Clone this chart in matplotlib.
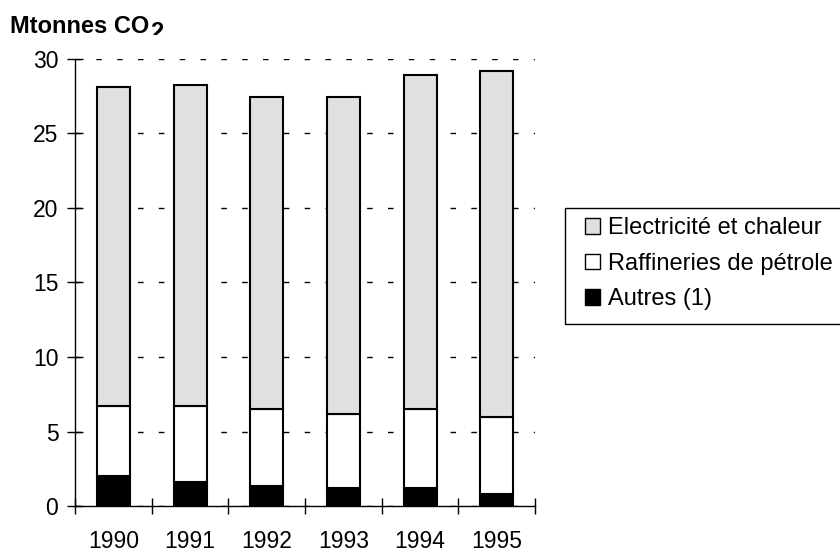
import matplotlib.pyplot as plt
from matplotlib.patches import Rectangle
from matplotlib.transforms import Bbox, TransformedBbox
import numpy as np

plt.rcParams['font.family'] = ['Liberation Sans', 'DejaVu Sans']

# données
annees = ['1990', '1991', '1992', '1993', '1994', '1995']
autres = [2.05, 1.65, 1.36, 1.25, 1.25, 0.84]
raffineries = [4.65, 5.05, 5.16, 4.91, 5.27, 5.16]
electricite = [21.40, 21.54, 20.91, 21.27, 22.37, 23.16]

x = np.arange(len(annees))
bas2 = np.array(autres) + np.array(raffineries)

fig = plt.figure(figsize=(8.4, 5.52), dpi=100)
ax = fig.add_axes([0.0893, 0.0828, 0.5477, 0.8112])

ax.bar(x, autres, width=0.43, color='black', edgecolor='black', linewidth=1.5,
       label='Autres (1)', zorder=3)
ax.bar(x, raffineries, bottom=autres, width=0.43, color='white', edgecolor='black',
       linewidth=1.5, label='Raffineries de pétrole', zorder=3)
ax.bar(x, electricite, bottom=bas2, width=0.43, color='#e0e0e0', edgecolor='black',
       linewidth=1.5, label='Electricité et chaleur', zorder=3)

ax.set_xlim(-0.5, 5.5)
ax.set_ylim(0, 30)
ax.set_yticks(range(0, 31, 5))
ax.set_xticks(x)
ax.set_xticklabels(annees)
ax.set_xticks(np.arange(-0.5, 6, 1), minor=True)
ax.tick_params(axis='x', which='major', length=0, pad=17, labelsize=16.5)
ax.tick_params(axis='x', which='minor', direction='inout', length=12, width=1)
ax.tick_params(axis='y', direction='inout', length=12, width=1, labelsize=16.5, pad=6)

ax.yaxis.grid(True, color='black', linewidth=1, linestyle=(0, (4, 11)), zorder=0)
ax.spines['top'].set_visible(False)
ax.spines['right'].set_visible(False)
for s in ['left', 'bottom']:
    ax.spines[s].set_linewidth(1)

t = fig.text(0.012, 0.94, 'Mtonnes CO', fontsize=17, fontweight='bold')
deux = ax.annotate('2', xy=(1, 1), xycoords=t, xytext=(0.5, -4), textcoords='offset points',
                   fontsize=17, fontweight='bold', va='top')
# le "2" est coupé en bas comme dans l'original
deux.set_clip_box(TransformedBbox(Bbox([[0, 1 - 35 / 552], [1, 1]]), fig.transFigure))
deux.set_clip_on(True)

# légende
cadre = Rectangle((565 / 840, 1 - 324 / 552), 0.4, 116 / 552, transform=fig.transFigure,
                  fill=False, edgecolor='black', linewidth=1, clip_on=False)
fig.patches.append(cadre)

h, l = ax.get_legend_handles_labels()
leg = fig.legend(h[::-1], l[::-1], loc='upper left', bbox_to_anchor=(585 / 840, 1 - 217 / 552),
                 fontsize=17, frameon=False,
                 handlelength=0.64, handleheight=0.64, handletextpad=0.34,
                 labelspacing=0.58, borderpad=0, borderaxespad=0)
for p in leg.get_patches():
    p.set_linewidth(1)

fig.savefig('out.png', dpi=100)
